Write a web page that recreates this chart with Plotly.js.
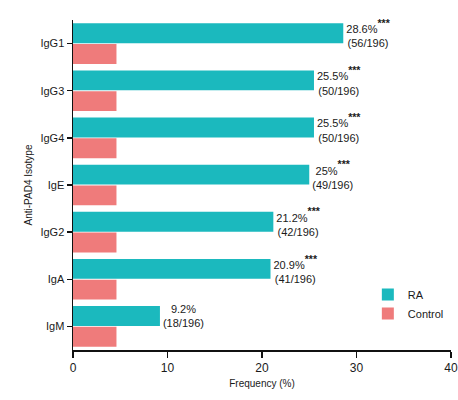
<!DOCTYPE html>
<html><head><meta charset="utf-8">
<script src="https://cdn.plot.ly/plotly-3.0.1.min.js"></script>
<style>html,body{margin:0;padding:0;background:#fff;}#chart{width:458px;height:400px;}</style>
</head><body><div id="chart"></div>
<script>
const categories = ["IgG1","IgG3","IgG4","IgE","IgG2","IgA","IgM"];
const raValues = [28.6, 25.5, 25.5, 25, 21.2, 20.9, 9.2];
const raCounts = [56, 50, 50, 49, 42, 41, 18];
const raTotal = 196;
const raStars = ["***","***","***","***","***","***",""];
const controlValues = [4.6, 4.6, 4.6, 4.6, 4.6, 4.6, 4.6];
const xTicks = [0, 10, 20, 30, 40];

const raText = raValues.map((v,i)=> v + "%" + (raStars[i] ? "<span style='font-size:15px'><sup><b>" + raStars[i] + "</b></sup></span>" : "") + "<br>(" + raCounts[i] + "/" + raTotal + ")");

const font = "Liberation Sans, Arial, sans-serif";
const data = [
  {type:"bar", orientation:"h", name:"RA", y:categories, x:raValues,
   marker:{color:"#1BB9BE"}, text:raText, textposition:"outside",
   constraintext:"none", cliponaxis:false,
   textfont:{family:font, size:11, color:"#1a1a1a"}, hoverinfo:"x+y"},
  {type:"bar", orientation:"h", name:"Control", y:categories, x:controlValues,
   marker:{color:"#EF7B7B"}, hoverinfo:"x+y"}
];
const layout = {
  width:458, height:400,
  margin:{l:73, r:7, t:20, b:50},
  paper_bgcolor:"#fff", plot_bgcolor:"#fff",
  font:{family:font, size:11, color:"#1a1a1a"},
  barmode:"group", bargap:0.12, bargroupgap:0.04,
  showlegend:true,
  legend:{x:0.78, y:0.212, xanchor:"left", yanchor:"top", traceorder:"normal",
          font:{family:font, size:11, color:"#1a1a1a"}, bgcolor:"rgba(0,0,0,0)",
          itemwidth:30, tracegroupgap:4},
  xaxis:{range:[0,40], tickvals:xTicks, ticktext:xTicks.map(String), automargin:false,
         showgrid:false, zeroline:false, showline:true, linecolor:"#111", linewidth:1.5,
         ticks:"outside", ticklen:6, tickwidth:1.5, tickcolor:"#111",
         tickfont:{family:font, size:12, color:"#1a1a1a"},
         title:{text:"Frequency (%)", font:{family:font, size:10, color:"#1a1a1a"}, standoff:6}},
  yaxis:{type:"category", autorange:"reversed", automargin:false, showgrid:false, zeroline:false,
         showline:true, linecolor:"#111", linewidth:1.5,
         ticks:"outside", ticklen:5, tickwidth:1.5, tickcolor:"#111",
         tickfont:{family:font, size:11, color:"#1a1a1a"},
         title:{text:"Anti-PAD4 Isotype", font:{family:font, size:10, color:"#1a1a1a"}, standoff:6}}
};
Plotly.newPlot("chart", data, layout, {displayModeBar:false, staticPlot:true});
</script></body></html>
